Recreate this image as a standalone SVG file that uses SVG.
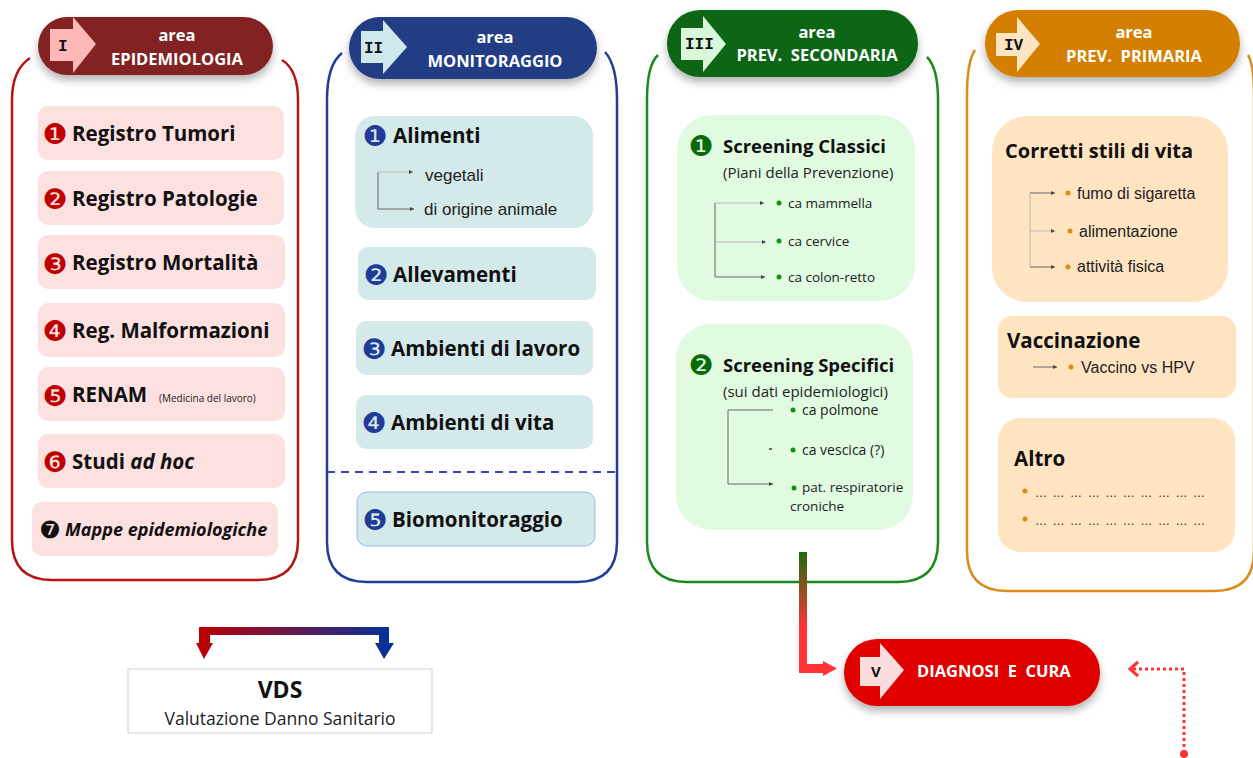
<svg xmlns="http://www.w3.org/2000/svg" width="1253" height="758" viewBox="0 0 1253 758">
<defs>
<style>
.hd{font-family:"Open Sans",sans-serif;font-weight:bold;font-size:16.5px;fill:#fff;text-anchor:middle;white-space:pre}
.rn{font-family:"Liberation Mono",monospace;font-weight:bold;font-size:16px;fill:#111}
.it{font-family:"Open Sans",sans-serif;font-weight:bold;font-size:20.5px;fill:#111}
.num{font-family:"DejaVu Sans",sans-serif;font-size:28px;text-anchor:middle}
.sub{font-family:"Liberation Sans",sans-serif;font-size:17px;fill:#222}
.gs{font-family:"Open Sans",sans-serif;font-size:13.5px;fill:#222}
.os{font-family:"Liberation Sans",sans-serif;font-size:16px;fill:#222}
.tree{fill:none;stroke:#666;stroke-width:1}
.treel{fill:none;stroke:#bbb;stroke-width:1}
.cont{fill:none;stroke-width:2.5}
</style>
<filter id="sh" x="-10%" y="-20%" width="120%" height="160%">
<feDropShadow dx="0" dy="5" stdDeviation="4" flood-color="#000" flood-opacity="0.3"/>
</filter>
<marker id="ah" viewBox="0 0 6 6" refX="6" refY="3" markerWidth="4" markerHeight="4" orient="auto">
<path d="M0,0 L6,3 L0,6 Z" fill="#444"/>
</marker>
<linearGradient id="rb" x1="0" y1="0" x2="1" y2="0">
<stop offset="0" stop-color="#c00000"/>
<stop offset="1" stop-color="#0033a0"/>
</linearGradient>
<linearGradient id="gr" x1="0" y1="0" x2="0" y2="1">
<stop offset="0" stop-color="#1f6b10"/>
<stop offset="0.6" stop-color="#ff3333"/>
<stop offset="1" stop-color="#ff3333"/>
</linearGradient>
</defs>

<!-- containers -->
<g id="containers">
<path class="cont" stroke="#b51414" d="M30,58 Q12,70 12,100 L12,540 Q12,580 52,580 L258,580 Q298,580 298,540 L298,100 Q298,70 282,60"/>
<path class="cont" stroke="#1f3c99" d="M342,53 Q327,65 327,100 L327,542 Q327,582 367,582 L577,582 Q617,582 617,542 L617,100 Q617,65 605,52"/>
<line x1="327" y1="472" x2="617" y2="472" stroke="#3a45a8" stroke-width="2" stroke-dasharray="8,6"/>
<path class="cont" stroke="#1a8a1a" d="M658,55 Q647,65 647,100 L647,542 Q647,582 687,582 L898,582 Q938,582 938,542 L938,100 Q938,68 927,57"/>
<path class="cont" stroke="#dc8c1c" d="M975,50 Q967,62 967,95 L967,551 Q967,591 1007,591 L1214,591 Q1254,591 1254,551 L1254,95 Q1254,65 1248,55"/>
</g>

<!-- headers -->
<g id="header-I">
<rect x="38" y="17" width="235" height="58" rx="29" fill="#822323" filter="url(#sh)"/>
<path d="M50,29 L73,29 L73,17 L96,44 L73,73 L73,61 L50,61 Z" fill="#ffb8b8"/>
<text class="rn" x="58" y="51">I</text>
<text class="hd" x="177" y="41">area</text>
<text class="hd" x="177" y="65">EPIDEMIOLOGIA</text>
</g>
<g id="header-II">
<rect x="349" y="17" width="248" height="62" rx="31" fill="#223c84" filter="url(#sh)"/>
<path d="M361,31 L383,31 L383,20 L407,47 L383,74 L383,63 L361,63 Z" fill="#cde9ec"/>
<text class="rn" x="364" y="53">II</text>
<text class="hd" x="495" y="43">area</text>
<text class="hd" x="495" y="67">MONITORAGGIO</text>
</g>
<g id="header-III">
<rect x="667" y="10" width="251" height="67" rx="33" fill="#0c6612" filter="url(#sh)"/>
<path d="M681,28 L703,28 L703,16 L726,44 L703,72 L703,60 L681,60 Z" fill="#d9f7d9"/>
<text class="rn" x="685" y="49">III</text>
<text class="hd" x="817" y="38">area</text>
<text class="hd" x="817" y="61">PREV.  SECONDARIA</text>
</g>
<g id="header-IV">
<rect x="985" y="10" width="255" height="67" rx="33" fill="#d47f05" filter="url(#sh)"/>
<path d="M996,33 L1017,33 L1017,17 L1040,44 L1017,72 L1017,56 L996,56 Z" fill="#fde4c2"/>
<text class="rn" x="1004" y="50">IV</text>
<text class="hd" x="1134" y="38">area</text>
<text class="hd" x="1134" y="62">PREV.  PRIMARIA</text>
</g>

<!-- column I items -->
<g id="epi-1">
<rect x="38" y="106" width="246" height="54" rx="10" fill="#fde0e0"/>
<text class="num" x="55" y="144" fill="#c00000">❶</text>
<text class="it" x="72" y="141">Registro Tumori</text>
</g>
<g id="epi-2">
<rect x="38" y="171" width="246" height="54" rx="10" fill="#fde0e0"/>
<text class="num" x="55" y="209" fill="#c00000">❷</text>
<text class="it" x="72" y="206">Registro Patologie</text>
</g>
<g id="epi-3">
<rect x="38" y="235" width="247" height="54" rx="10" fill="#fde0e0"/>
<text class="num" x="55" y="274" fill="#c00000">❸</text>
<text class="it" x="72" y="270">Registro Mortalità</text>
</g>
<g id="epi-4">
<rect x="38" y="303" width="247" height="54" rx="10" fill="#fde0e0"/>
<text class="num" x="55" y="341" fill="#c00000">❹</text>
<text class="it" x="72" y="338">Reg. Malformazioni</text>
</g>
<g id="epi-5">
<rect x="38" y="367" width="247" height="54" rx="10" fill="#fde0e0"/>
<text class="num" x="55" y="406" fill="#c00000">❺</text>
<text class="it" x="72" y="402">RENAM</text>
<text x="159" y="402" font-family="Open Sans, sans-serif" font-size="10" fill="#222">(Medicina del lavoro)</text>
</g>
<g id="epi-6">
<rect x="38" y="434" width="247" height="54" rx="10" fill="#fde0e0"/>
<text class="num" x="55" y="472" fill="#c00000">❻</text>
<text class="it" x="72" y="469">Studi <tspan font-style="italic">ad hoc</tspan></text>
</g>
<g id="epi-7">
<rect x="32" y="502" width="246" height="54" rx="10" fill="#fde0e0"/>
<text class="num" x="50" y="538" fill="#111" style="font-size:24px">❼</text>
<text x="65" y="536" font-family="Open Sans, sans-serif" font-weight="bold" font-style="italic" font-size="18" fill="#111">Mappe epidemiologiche</text>
</g>

<!-- column II items -->
<g id="mon-1">
<rect x="355" y="116" width="238" height="112" rx="20" fill="#d4eaea"/>
<text class="num" x="375" y="146" fill="#1f3c99">❶</text>
<text class="it" x="393" y="143">Alimenti</text>
<text class="sub" x="425" y="181">vegetali</text>
<text class="sub" x="424" y="215">di origine animale</text>
</g>
<g id="mon-2">
<rect x="358" y="247" width="238" height="53" rx="10" fill="#d4eaea"/>
<text class="num" x="376" y="285" fill="#1f3c99">❷</text>
<text class="it" x="393" y="282">Allevamenti</text>
</g>
<g id="mon-3">
<rect x="356" y="321" width="237" height="54" rx="10" fill="#d4eaea"/>
<text class="num" x="374" y="359" fill="#1f3c99">❸</text>
<text class="it" x="391" y="356">Ambienti di lavoro</text>
</g>
<g id="mon-4">
<rect x="356" y="395" width="237" height="54" rx="10" fill="#d4eaea"/>
<text class="num" x="374" y="433" fill="#1f3c99">❹</text>
<text class="it" x="391" y="430">Ambienti di vita</text>
</g>
<g id="mon-5">
<rect x="357" y="492" width="238" height="54" rx="10" fill="#d4eaea" stroke="#9db4e6" stroke-width="1"/>
<text class="num" x="375" y="530" fill="#1f3c99">❺</text>
<text class="it" x="392" y="527">Biomonitoraggio</text>
</g>

<!-- column III items -->
<g id="sec-1">
<rect x="677" y="115" width="238" height="186" rx="35" fill="#e0fbe0"/>
<text class="num" x="701" y="156" fill="#0a6a0a">❶</text>
<text class="it" x="723" y="153" style="font-size:18.5px">Screening Classici</text>
<text class="gs" x="723" y="178" style="font-size:15px">(Piani della Prevenzione)</text>
<circle cx="779" cy="203" r="2.5" fill="#129212"/>
<circle cx="779" cy="241" r="2.5" fill="#129212"/>
<circle cx="779" cy="277" r="2.5" fill="#129212"/>
<text class="gs" x="788" y="208">ca mammella</text>
<text class="gs" x="788" y="246">ca cervice</text>
<text class="gs" x="788" y="282">ca colon-retto</text>
</g>
<g id="sec-2">
<rect x="676" y="324" width="237" height="206" rx="35" fill="#e0fbe0"/>
<text class="num" x="701" y="375" fill="#0a6a0a">❷</text>
<text class="it" x="723" y="372" style="font-size:18.5px">Screening Specifici</text>
<text class="gs" x="723" y="397" style="font-size:15px">(sui dati epidemiologici)</text>
<circle cx="793" cy="410" r="2.5" fill="#129212"/>
<circle cx="793" cy="450" r="2.5" fill="#129212"/>
<circle cx="794" cy="488" r="2.5" fill="#129212"/>
<text class="gs" x="802" y="415" style="font-size:14px">ca polmone</text>
<text class="gs" x="802" y="455" style="font-size:14px">ca vescica (?)</text>
<text class="gs" x="802" y="492">pat. respiratorie</text>
<text class="gs" x="790" y="511">croniche</text>
</g>

<!-- column IV items -->
<g id="pri-1">
<rect x="992" y="116" width="236" height="186" rx="35" fill="#ffe4c2"/>
<text class="it" x="1005" y="158" style="font-size:20px">Corretti stili di vita</text>
<circle cx="1068" cy="193" r="2.5" fill="#e08a10"/>
<circle cx="1070" cy="231" r="2.5" fill="#e08a10"/>
<circle cx="1068" cy="267" r="2.5" fill="#e08a10"/>
<text class="os" x="1077" y="199">fumo di sigaretta</text>
<text class="os" x="1079" y="237">alimentazione</text>
<text class="os" x="1077" y="272">attività fisica</text>
</g>
<g id="pri-2">
<rect x="998" y="316" width="238" height="82" rx="14" fill="#ffe4c2"/>
<text class="it" x="1007" y="348">Vaccinazione</text>
<circle cx="1071" cy="367" r="2.5" fill="#e08a10"/>
<text class="os" x="1081" y="373">Vaccino vs HPV</text>
</g>
<g id="pri-3">
<rect x="998" y="418" width="237" height="134" rx="22" fill="#ffe4c2"/>
<text class="it" x="1014" y="466">Altro</text>
<circle cx="1025" cy="491" r="2.5" fill="#e08a10"/>
<circle cx="1025" cy="519" r="2.5" fill="#e08a10"/>
<text class="os" x="1035" y="497" style="font-size:12px" textLength="170" lengthAdjust="spacing">…………………………</text>
<text class="os" x="1035" y="525" style="font-size:12px" textLength="170" lengthAdjust="spacing">…………………………</text>
</g>

<!-- bottom nodes -->
<g id="vds">
<rect x="128" y="669" width="304" height="64" fill="#fff" stroke="#cfcfcf" stroke-width="1"/>
<text x="280" y="698" font-family="Open Sans, sans-serif" font-weight="bold" font-size="23" fill="#111" text-anchor="middle">VDS</text>
<text x="280" y="725" font-family="Open Sans, sans-serif" font-size="17.5" fill="#222" text-anchor="middle">Valutazione Danno Sanitario</text>
</g>
<g id="header-V">
<rect x="844" y="639" width="256" height="67" rx="33" fill="#e00000" filter="url(#sh)"/>
<path d="M860,657 L880,657 L880,643 L904,670 L880,699 L880,686 L860,686 Z" fill="#fcdcdc"/>
<text x="871" y="677" font-family="Open Sans, sans-serif" font-weight="bold" font-size="15" fill="#111">V</text>
<text x="917" y="677" font-family="Open Sans, sans-serif" font-weight="bold" font-size="16.5" fill="#fff" style="white-space:pre">DIAGNOSI  E  CURA</text>
</g>

<!-- connectors -->
<g id="connectors">
<path class="tree" d="M378,172 L378,209 L414,209" marker-end="url(#ah)"/>
<path class="treel" d="M378,172 L413,172" marker-end="url(#ah)"/>
<path class="tree" d="M715,203 L715,277 L765,277" marker-end="url(#ah)"/>
<path class="treel" d="M715,203 L764,203" marker-end="url(#ah)"/>
<path class="treel" d="M716,242 L766,242" marker-end="url(#ah)"/>
<path class="tree" d="M773,410 L728,410 L728,484 L773,484" marker-end="url(#ah)"/>
<path d="M769,449 L772,449" stroke="#444" stroke-width="1.5"/>
<path class="treel" d="M1030,193 L1030,267"/>
<path class="tree" d="M1030,193 L1055,193" marker-end="url(#ah)"/>
<path class="treel" d="M1030,231 L1055,231" marker-end="url(#ah)"/>
<path class="tree" d="M1030,267 L1055,267" marker-end="url(#ah)"/>
<path class="tree" d="M1033,367 L1057,367" marker-end="url(#ah)"/>
<path d="M199,627 L389,627 L389,643 L394,643 L384,659 L375,643 L379,643 L379,635 L210,635 L210,643 L213,643 L204,659 L196,643 L199,643 Z" fill="url(#rb)"/>
<path d="M799,552 L807,552 L807,664 L823,664 L823,661 L837,668.5 L823,676 L823,673 L799,673 Z" fill="url(#gr)"/>
<path d="M1184,753 L1184,669 L1131,669" fill="none" stroke="#ff3333" stroke-width="3" stroke-dasharray="3,3"/>
<path d="M1138,662 L1130,669 L1138,676" fill="none" stroke="#ff3333" stroke-width="3"/>
<circle cx="1184" cy="754" r="4" fill="#ff3333"/>
</g>
</svg>
